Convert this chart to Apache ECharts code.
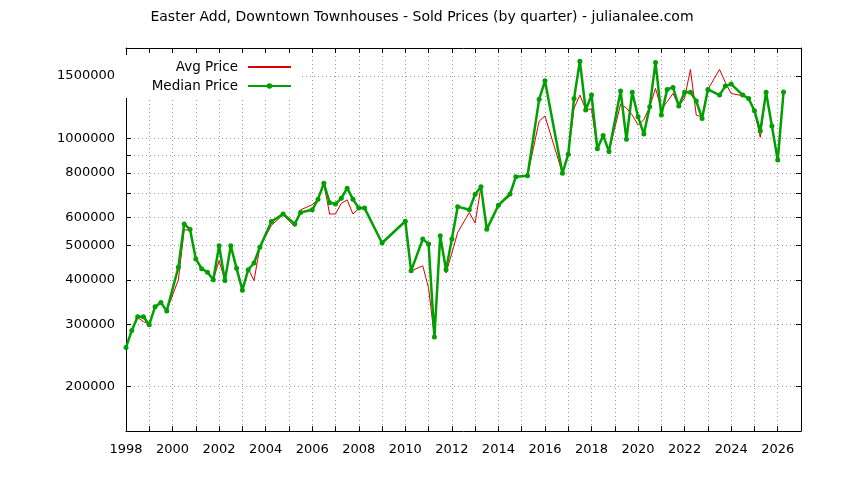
<!DOCTYPE html>
<html>
<head>
<meta charset="utf-8">
<title>Easter Add, Downtown Townhouses - Sold Prices</title>
<script src="https://cdn.jsdelivr.net/npm/echarts@6/dist/echarts.min.js"></script>
<style>
  html, body { margin: 0; padding: 0; background: #fff; }
  #chart { width: 844px; height: 480px; }
</style>
</head>
<body>
<div id="chart"></div>
<script>
// quarter (decimal year) for every sale period shown
const quarters = [
  1998.00, 1998.25, 1998.50, 1998.75, 1999.00, 1999.25, 1999.50, 1999.75,
  2000.25, 2000.50, 2000.75, 2001.00, 2001.25, 2001.50, 2001.75, 2002.00,
  2002.25, 2002.50, 2002.75, 2003.00, 2003.25, 2003.50, 2003.75, 2004.25,
  2004.75, 2005.25, 2005.50, 2006.00, 2006.25, 2006.50, 2006.75, 2007.00,
  2007.25, 2007.50, 2007.75, 2008.00, 2008.25, 2009.00, 2010.00, 2010.25,
  2010.75, 2011.00, 2011.25, 2011.50, 2011.75, 2012.00, 2012.25, 2012.75,
  2013.00, 2013.25, 2013.50, 2014.00, 2014.50, 2014.75, 2015.25, 2015.75,
  2016.00, 2016.75, 2017.00, 2017.25, 2017.50, 2017.75, 2018.00, 2018.25,
  2018.50, 2018.75, 2019.25, 2019.50, 2019.75, 2020.00, 2020.25, 2020.50,
  2020.75, 2021.00, 2021.25, 2021.50, 2021.75, 2022.00, 2022.25, 2022.50,
  2022.75, 2023.00, 2023.50, 2023.75, 2024.00, 2024.50, 2024.75, 2025.00,
  2025.25, 2025.50, 2025.75, 2026.00, 2026.25
];

const avgPrice = [
  258000, 288000, 313000, 305000, 300000, 336000, 345000, 327000,
  400000, 553000, 553000, 458000, 430000, 420000, 400000, 453000,
  398000, 495000, 431000, 374000, 430000, 398000, 494000, 570000,
  610000, 565000, 630000, 651000, 675000, 745000, 613000, 613000,
  657000, 672000, 613000, 635000, 637000, 508000, 585000, 424000,
  438000, 379000, 276000, 532000, 418000, 476000, 544000, 619000,
  578000, 732000, 555000, 649000, 690000, 781000, 786000, 1120000,
  1158000, 799000, 903000, 1217000, 1326000, 1210000, 1210000, 936000,
  1021000, 919000, 1251000, 1220000, 1165000, 1092000, 1130000, 1230000,
  1385000, 1210000, 1270000, 1340000, 1235000, 1300000, 1566000, 1165000,
  1150000, 1376000, 1566000, 1440000, 1340000, 1320000, 1300000, 1198000,
  1008000, 1350000, 1085000, 870000, 1353000
];

const medianPrice = [
  258000, 288000, 315000, 315000, 299000, 336000, 345000, 327000,
  434000, 575000, 555000, 458000, 430000, 420000, 400000, 499000,
  398000, 499000, 431000, 374000, 427000, 446000, 494000, 584000,
  613000, 575000, 619000, 630000, 675000, 748000, 660000, 654000,
  679000, 725000, 675000, 637000, 637000, 508000, 585000, 424000,
  521000, 505000, 276000, 532000, 427000, 521000, 643000, 630000,
  697000, 732000, 555000, 649000, 698000, 781000, 786000, 1290000,
  1455000, 799000, 903000, 1298000, 1653000, 1204000, 1326000, 936000,
  1021000, 919000, 1361000, 995000, 1350000, 1152000, 1030000, 1230000,
  1639000, 1165000, 1376000, 1394000, 1235000, 1350000, 1350000, 1276000,
  1140000, 1376000, 1326000, 1406000, 1424000, 1326000, 1297000, 1198000,
  1050000, 1350000, 1085000, 870000, 1353000
];

// y ticks (log scale) - grid on all, labels only on some
const yTickValues = [200000, 300000, 400000, 500000, 600000, 700000, 800000, 900000, 1000000, 1500000];
const yLabelValues = [200000, 300000, 400000, 500000, 600000, 800000, 1000000, 1500000];

const FONT = 'DejaVu Sans';
const gridDots = { color: '#9a9a9a', width: 1, type: [1, 3] };

const chart = echarts.init(document.getElementById('chart'));

const xBase = {
  type: 'value',
  min: 1998, max: 2027, interval: 1,
  axisLine: { show: true, onZero: false, lineStyle: { color: '#000', width: 1 } },
  axisTick: { show: true, inside: true, length: 5, lineStyle: { color: '#000' } }
};
const yBase = {
  type: 'log', logBase: 10,
  min: 150000, max: 1800000,
  axisLine: { show: true, onZero: false, lineStyle: { color: '#000', width: 1 } },
  axisTick: { show: true, inside: true, length: 5, customValues: yTickValues, lineStyle: { color: '#000' } },
  minorTick: { show: false }
};

chart.setOption({
  animation: false,
  backgroundColor: '#fff',
  title: {
    text: 'Easter Add, Downtown Townhouses - Sold Prices (by quarter) - julianalee.com',
    left: 'center', top: 5,
    textStyle: { fontFamily: FONT, fontSize: 14, fontWeight: 'normal', color: '#000' }
  },
  legend: {
    orient: 'vertical', align: 'right',
    right: 544, top: 55,
    padding: [5, 8, 5, 26],
    backgroundColor: '#fff',
    itemWidth: 43, itemHeight: 7, itemGap: 5,
    textStyle: { fontFamily: FONT, fontSize: 13.5, color: '#000', padding: [0, 5, 0, 0] },
    data: [
      { name: 'Avg Price', itemStyle: { opacity: 0 } },
      { name: 'Median Price' }
    ]
  },
  grid: { left: 126, right: 43, top: 48, bottom: 49 },
  xAxis: [
    Object.assign({}, xBase, {
      position: 'bottom',
      axisLabel: {
        color: '#000', fontFamily: FONT, fontSize: 13, margin: 12,
        formatter: v => (v % 2 === 0 ? String(v) : '')
      },
      splitLine: { show: true, lineStyle: gridDots }
    }),
    Object.assign({}, xBase, {
      position: 'top',
      axisLabel: { show: false },
      splitLine: { show: false }
    })
  ],
  yAxis: [
    Object.assign({}, yBase, {
      position: 'left',
      axisLabel: {
        customValues: yLabelValues,
        color: '#000', fontFamily: FONT, fontSize: 13, margin: 11,
        formatter: v => String(Math.round(v))
      },
      splitLine: { show: true, lineStyle: gridDots }
    }),
    Object.assign({}, yBase, {
      position: 'right',
      axisLabel: { show: false },
      splitLine: { show: false }
    })
  ],
  series: [
    {
      name: 'Avg Price',
      type: 'line',
      xAxisIndex: 0, yAxisIndex: 0,
      data: quarters.map((q, i) => [q, avgPrice[i]]),
      symbol: 'none',
      color: '#e00000',
      lineStyle: { color: '#e00000', width: 1 },
      z: 2
    },
    {
      name: 'Median Price',
      type: 'line',
      xAxisIndex: 0, yAxisIndex: 0,
      data: quarters.map((q, i) => [q, medianPrice[i]]),
      symbol: 'circle', symbolSize: 5, showSymbol: true,
      color: '#00a000',
      itemStyle: { color: '#00a000' },
      lineStyle: { color: '#00a000', width: 2.5 },
      z: 3
    }
  ]
});
</script>
</body>
</html>
